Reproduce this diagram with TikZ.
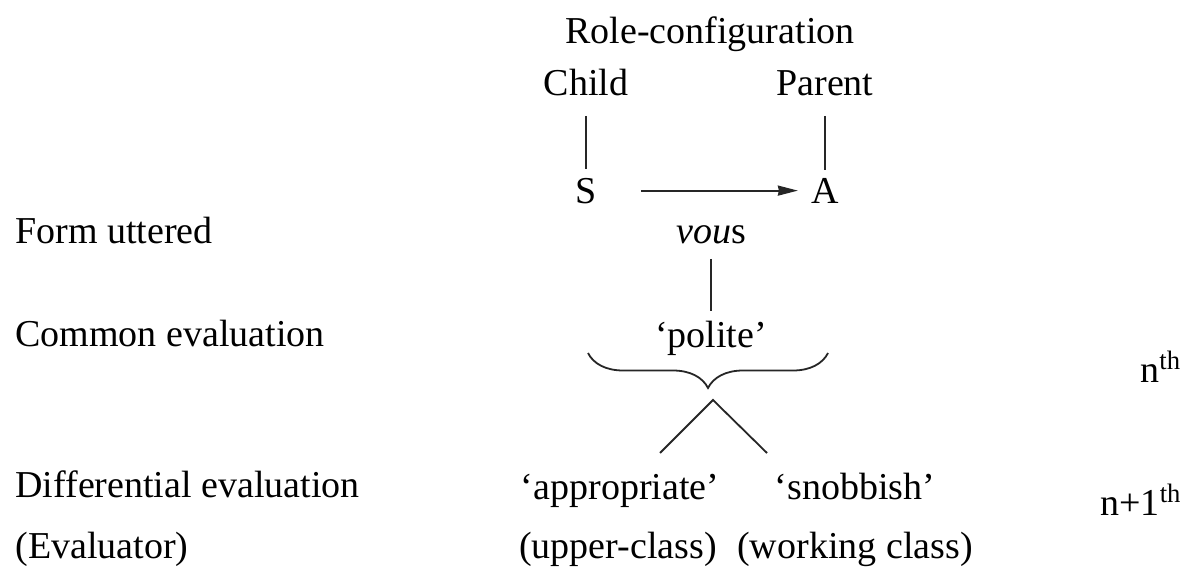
\documentclass[tikz,border=0pt]{standalone}
\usepackage{fontspec}
\setmainfont{Liberation Serif}
\usetikzlibrary{arrows.meta,decorations.pathreplacing}
\tikzset{
  txt/.style={inner sep=0pt, anchor=base, font=\fontsize{19}{23}\selectfont},
  lab/.style={txt, anchor=base west},
  ln/.style={line width=0.9pt, draw=black!85},
}
\begin{document}
\begin{tikzpicture}[x=0.5pt,y=-0.5pt]
\useasboundingbox (0,0) rectangle (1183,573);
% top
\node[txt] (role) at (710,43) {Role-configuration};
\node[txt] (child) at (586,95) {Child};
\node[txt] (parent) at (825,95) {Parent};
\node[txt] (S) at (586,203) {S};
\node[txt] (A) at (825,203) {A};
\draw[ln, shorten <=10pt, shorten >=4pt] (child.south) -- (S.north);
\draw[ln, shorten <=10pt, shorten >=4pt] (parent.south) -- (A.north);
\draw[ln, -{Stealth[length=10pt,width=5pt,inset=0.5pt]}, shorten <=22pt, shorten >=6.5pt] (S.east) -- (S.east -| A.west);
% left labels
\node[lab] (form) at (15,243) {Form uttered};
\node[lab] (common) at (15,346) {Common evaluation};
\node[lab] (diff) at (15,497) {Differential evaluation};
\node[lab] (evaluator) at (15,558) {(Evaluator)};
% centre column
\node[txt] (vous) at (711,243) {\textit{vou}s};
\node[txt] (polite) at (711,347) {‘polite’};
\draw[ln, shorten <=7.5pt, shorten >=4.5pt] (vous.south) -- (polite.north);
\coordinate (bl) at (588,353);
\coordinate (br) at (828,353);
\draw[ln, decorate, decoration={brace, mirror, amplitude=17.5pt}] (bl) -- (br);
\coordinate (apex) at (713,400);
\coordinate (wl) at (660,453);
\coordinate (wr) at (767,453);
\draw[ln] (wl) -- (apex) -- (wr);
\node[txt] (approp) at (620,499) {‘appropriate’};
\node[txt] (snob) at (855,499) {‘snobbish’};
\node[txt] (upper) at (618,558) {(upper-class)};
\node[txt] (working) at (855,558) {(working class)};
% right
\node[lab] (nth) at (1140,382) {n\textsuperscript{th}};
\node[lab] (n1th) at (1100,515) {n+1\textsuperscript{th}};
\end{tikzpicture}
\end{document}
